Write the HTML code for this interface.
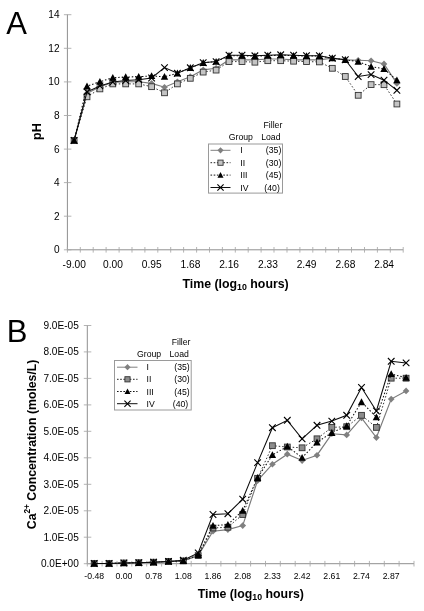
<!DOCTYPE html>
<html lang="en"><head><meta charset="utf-8"><title>Figure</title>
<style>html,body{margin:0;padding:0;background:#fff}body{width:424px;height:611px;overflow:hidden}svg{display:block;filter:blur(0.4px)}</style>
</head><body>
<svg width="424" height="611" viewBox="0 0 424 611" font-family='"Liberation Sans", sans-serif'>
<rect width="424" height="611" fill="#fff"/>
<text x="6.2" y="34.0" font-size="31.00" text-anchor="start" font-weight="normal" fill="#000" >A</text>
<text x="6.8" y="342.0" font-size="31.00" text-anchor="start" font-weight="normal" fill="#000" >B</text>
<g stroke="#8f8f8f" stroke-width="1" fill="none">
<path d="M67.4 14.5V249.6"/>
<path d="M66.9 249.8H403.2"/>
</g>
<g stroke="#a6a6a6" stroke-width="0.85" fill="none">
<path d="M63.9 249.8H71.4"/>
<path d="M63.9 216.2H71.4"/>
<path d="M63.9 182.6H71.4"/>
<path d="M63.9 149.1H71.4"/>
<path d="M63.9 115.5H71.4"/>
<path d="M63.9 81.9H71.4"/>
<path d="M63.9 48.3H71.4"/>
<path d="M63.9 14.7H71.4"/>
<path d="M67.4 247.0V252.6"/>
<path d="M80.3 247.0V252.6"/>
<path d="M93.2 247.0V252.6"/>
<path d="M106.1 247.0V252.6"/>
<path d="M119.1 247.0V252.6"/>
<path d="M132.0 247.0V252.6"/>
<path d="M144.9 247.0V252.6"/>
<path d="M157.8 247.0V252.6"/>
<path d="M170.7 247.0V252.6"/>
<path d="M183.6 247.0V252.6"/>
<path d="M196.6 247.0V252.6"/>
<path d="M209.5 247.0V252.6"/>
<path d="M222.4 247.0V252.6"/>
<path d="M235.3 247.0V252.6"/>
<path d="M248.2 247.0V252.6"/>
<path d="M261.1 247.0V252.6"/>
<path d="M274.0 247.0V252.6"/>
<path d="M287.0 247.0V252.6"/>
<path d="M299.9 247.0V252.6"/>
<path d="M312.8 247.0V252.6"/>
<path d="M325.7 247.0V252.6"/>
<path d="M338.6 247.0V252.6"/>
<path d="M351.5 247.0V252.6"/>
<path d="M364.5 247.0V252.6"/>
<path d="M377.4 247.0V252.6"/>
<path d="M390.3 247.0V252.6"/>
<path d="M403.2 247.0V252.6"/>
</g>
<text x="59.6" y="253.2" font-size="10.10" text-anchor="end" font-weight="normal" fill="#000" >0</text>
<text x="59.6" y="219.6" font-size="10.10" text-anchor="end" font-weight="normal" fill="#000" >2</text>
<text x="59.6" y="186.0" font-size="10.10" text-anchor="end" font-weight="normal" fill="#000" >4</text>
<text x="59.6" y="152.5" font-size="10.10" text-anchor="end" font-weight="normal" fill="#000" >6</text>
<text x="59.6" y="118.9" font-size="10.10" text-anchor="end" font-weight="normal" fill="#000" >8</text>
<text x="59.6" y="85.3" font-size="10.10" text-anchor="end" font-weight="normal" fill="#000" >10</text>
<text x="59.6" y="51.7" font-size="10.10" text-anchor="end" font-weight="normal" fill="#000" >12</text>
<text x="59.6" y="18.1" font-size="10.10" text-anchor="end" font-weight="normal" fill="#000" >14</text>
<text x="74.2" y="268.3" font-size="10.20" text-anchor="middle" font-weight="normal" fill="#000" >-9.00</text>
<text x="112.9" y="268.3" font-size="10.20" text-anchor="middle" font-weight="normal" fill="#000" >0.00</text>
<text x="151.7" y="268.3" font-size="10.20" text-anchor="middle" font-weight="normal" fill="#000" >0.95</text>
<text x="190.4" y="268.3" font-size="10.20" text-anchor="middle" font-weight="normal" fill="#000" >1.68</text>
<text x="229.1" y="268.3" font-size="10.20" text-anchor="middle" font-weight="normal" fill="#000" >2.16</text>
<text x="267.9" y="268.3" font-size="10.20" text-anchor="middle" font-weight="normal" fill="#000" >2.33</text>
<text x="306.6" y="268.3" font-size="10.20" text-anchor="middle" font-weight="normal" fill="#000" >2.49</text>
<text x="345.4" y="268.3" font-size="10.20" text-anchor="middle" font-weight="normal" fill="#000" >2.68</text>
<text x="384.1" y="268.3" font-size="10.20" text-anchor="middle" font-weight="normal" fill="#000" >2.84</text>
<text x="235.6" y="287.6" font-size="12.35" text-anchor="middle" font-weight="bold" fill="#000" >Time (log<tspan font-size="8.8" dy="2.4">10</tspan><tspan dy="-2.4"> hours)</tspan></text>
<text transform="translate(40.8,131.6) rotate(-90)" font-size="12.5" text-anchor="middle" font-weight="bold" fill="#000">pH</text>
<polyline points="74.1,140.5 87.0,93.5 99.9,86.7 112.8,82.5 125.7,81.7 138.7,81.7 151.6,83.4 164.5,87.2 177.4,81.7 190.3,76.7 203.2,69.9 216.1,68.3 229.0,59.9 242.0,59.9 254.9,59.9 267.8,59.0 280.7,59.0 293.6,59.9 306.5,59.9 319.4,59.9 332.3,58.2 345.3,59.9 358.2,60.2 371.1,60.7 384.0,63.9 396.9,83.4" fill="none" stroke="#7a7a7a" stroke-width="1.15"/>
<path d="M74.1 137.1L77.4 140.5L74.1 143.8L70.8 140.5Z" fill="#808080"/>
<path d="M87.0 90.1L90.4 93.5L87.0 96.8L83.7 93.5Z" fill="#808080"/>
<path d="M99.9 83.4L103.3 86.7L99.9 90.1L96.6 86.7Z" fill="#808080"/>
<path d="M112.8 79.2L116.2 82.5L112.8 85.9L109.5 82.5Z" fill="#808080"/>
<path d="M125.7 78.4L129.1 81.7L125.7 85.1L122.4 81.7Z" fill="#808080"/>
<path d="M138.7 78.4L142.0 81.7L138.7 85.1L135.3 81.7Z" fill="#808080"/>
<path d="M151.6 80.0L154.9 83.4L151.6 86.7L148.2 83.4Z" fill="#808080"/>
<path d="M164.5 83.9L167.8 87.2L164.5 90.6L161.1 87.2Z" fill="#808080"/>
<path d="M177.4 78.4L180.7 81.7L177.4 85.1L174.0 81.7Z" fill="#808080"/>
<path d="M190.3 73.3L193.7 76.7L190.3 80.0L187.0 76.7Z" fill="#808080"/>
<path d="M203.2 66.6L206.6 69.9L203.2 73.3L199.9 69.9Z" fill="#808080"/>
<path d="M216.1 64.9L219.5 68.3L216.1 71.6L212.8 68.3Z" fill="#808080"/>
<path d="M229.0 56.5L232.4 59.9L229.0 63.2L225.7 59.9Z" fill="#808080"/>
<path d="M242.0 56.5L245.3 59.9L242.0 63.2L238.6 59.9Z" fill="#808080"/>
<path d="M254.9 56.5L258.2 59.9L254.9 63.2L251.5 59.9Z" fill="#808080"/>
<path d="M267.8 55.7L271.1 59.0L267.8 62.4L264.4 59.0Z" fill="#808080"/>
<path d="M280.7 55.7L284.0 59.0L280.7 62.4L277.3 59.0Z" fill="#808080"/>
<path d="M293.6 56.5L297.0 59.9L293.6 63.2L290.3 59.9Z" fill="#808080"/>
<path d="M306.5 56.5L309.9 59.9L306.5 63.2L303.2 59.9Z" fill="#808080"/>
<path d="M319.4 56.5L322.8 59.9L319.4 63.2L316.1 59.9Z" fill="#808080"/>
<path d="M332.3 54.8L335.7 58.2L332.3 61.5L329.0 58.2Z" fill="#808080"/>
<path d="M345.3 56.5L348.6 59.9L345.3 63.2L341.9 59.9Z" fill="#808080"/>
<path d="M358.2 56.9L361.5 60.2L358.2 63.6L354.8 60.2Z" fill="#808080"/>
<path d="M371.1 57.4L374.4 60.7L371.1 64.1L367.7 60.7Z" fill="#808080"/>
<path d="M384.0 60.6L387.3 63.9L384.0 67.3L380.6 63.9Z" fill="#808080"/>
<path d="M396.9 80.0L400.2 83.4L396.9 86.7L393.5 83.4Z" fill="#808080"/>
<polyline points="74.1,140.5 87.0,96.8 99.9,88.9 112.8,83.9 125.7,83.9 138.7,83.9 151.6,86.7 164.5,92.8 177.4,83.9 190.3,78.3 203.2,72.1 216.1,70.1 229.0,61.6 242.0,61.6 254.9,62.2 267.8,60.7 280.7,60.7 293.6,61.2 306.5,61.6 319.4,61.9 332.3,68.3 345.3,76.5 358.2,95.3 371.1,84.6 384.0,84.7 396.9,104.0" fill="none" stroke="#333" stroke-width="1.00" stroke-dasharray="1.5 2.0"/>
<rect x="71.2" y="137.6" width="5.8" height="5.8" fill="#c4c4c4" stroke="#333" stroke-width="0.9"/>
<rect x="84.1" y="93.9" width="5.8" height="5.8" fill="#c4c4c4" stroke="#333" stroke-width="0.9"/>
<rect x="97.0" y="86.0" width="5.8" height="5.8" fill="#c4c4c4" stroke="#333" stroke-width="0.9"/>
<rect x="109.9" y="81.0" width="5.8" height="5.8" fill="#c4c4c4" stroke="#333" stroke-width="0.9"/>
<rect x="122.8" y="81.0" width="5.8" height="5.8" fill="#c4c4c4" stroke="#333" stroke-width="0.9"/>
<rect x="135.8" y="81.0" width="5.8" height="5.8" fill="#c4c4c4" stroke="#333" stroke-width="0.9"/>
<rect x="148.7" y="83.8" width="5.8" height="5.8" fill="#c4c4c4" stroke="#333" stroke-width="0.9"/>
<rect x="161.6" y="89.9" width="5.8" height="5.8" fill="#c4c4c4" stroke="#333" stroke-width="0.9"/>
<rect x="174.5" y="81.0" width="5.8" height="5.8" fill="#c4c4c4" stroke="#333" stroke-width="0.9"/>
<rect x="187.4" y="75.4" width="5.8" height="5.8" fill="#c4c4c4" stroke="#333" stroke-width="0.9"/>
<rect x="200.3" y="69.2" width="5.8" height="5.8" fill="#c4c4c4" stroke="#333" stroke-width="0.9"/>
<rect x="213.2" y="67.2" width="5.8" height="5.8" fill="#c4c4c4" stroke="#333" stroke-width="0.9"/>
<rect x="226.1" y="58.7" width="5.8" height="5.8" fill="#c4c4c4" stroke="#333" stroke-width="0.9"/>
<rect x="239.1" y="58.7" width="5.8" height="5.8" fill="#c4c4c4" stroke="#333" stroke-width="0.9"/>
<rect x="252.0" y="59.3" width="5.8" height="5.8" fill="#c4c4c4" stroke="#333" stroke-width="0.9"/>
<rect x="264.9" y="57.8" width="5.8" height="5.8" fill="#c4c4c4" stroke="#333" stroke-width="0.9"/>
<rect x="277.8" y="57.8" width="5.8" height="5.8" fill="#c4c4c4" stroke="#333" stroke-width="0.9"/>
<rect x="290.7" y="58.3" width="5.8" height="5.8" fill="#c4c4c4" stroke="#333" stroke-width="0.9"/>
<rect x="303.6" y="58.7" width="5.8" height="5.8" fill="#c4c4c4" stroke="#333" stroke-width="0.9"/>
<rect x="316.5" y="59.0" width="5.8" height="5.8" fill="#c4c4c4" stroke="#333" stroke-width="0.9"/>
<rect x="329.4" y="65.4" width="5.8" height="5.8" fill="#c4c4c4" stroke="#333" stroke-width="0.9"/>
<rect x="342.4" y="73.6" width="5.8" height="5.8" fill="#c4c4c4" stroke="#333" stroke-width="0.9"/>
<rect x="355.3" y="92.4" width="5.8" height="5.8" fill="#c4c4c4" stroke="#333" stroke-width="0.9"/>
<rect x="368.2" y="81.7" width="5.8" height="5.8" fill="#c4c4c4" stroke="#333" stroke-width="0.9"/>
<rect x="381.1" y="81.8" width="5.8" height="5.8" fill="#c4c4c4" stroke="#333" stroke-width="0.9"/>
<rect x="394.0" y="101.1" width="5.8" height="5.8" fill="#c4c4c4" stroke="#333" stroke-width="0.9"/>
<polyline points="74.1,140.5 87.0,86.2 99.9,81.7 112.8,77.7 125.7,77.0 138.7,76.7 151.6,76.0 164.5,76.7 177.4,73.3 190.3,67.8 203.2,62.7 216.1,61.6 229.0,55.7 242.0,55.7 254.9,56.2 267.8,55.7 280.7,55.2 293.6,55.7 306.5,56.0 319.4,56.0 332.3,58.2 345.3,59.7 358.2,61.6 371.1,66.6 384.0,68.9 396.9,80.2" fill="none" stroke="#111" stroke-width="1.05" stroke-dasharray="1.5 1.9"/>
<path d="M74.1 136.8L77.8 143.6L70.4 143.6Z" fill="#000"/>
<path d="M87.0 82.5L90.7 89.4L83.3 89.4Z" fill="#000"/>
<path d="M99.9 78.0L103.6 84.8L96.2 84.8Z" fill="#000"/>
<path d="M112.8 74.0L116.5 80.8L109.1 80.8Z" fill="#000"/>
<path d="M125.7 73.3L129.4 80.1L122.0 80.1Z" fill="#000"/>
<path d="M138.7 73.0L142.4 79.8L135.0 79.8Z" fill="#000"/>
<path d="M151.6 72.3L155.3 79.1L147.9 79.1Z" fill="#000"/>
<path d="M164.5 73.0L168.2 79.8L160.8 79.8Z" fill="#000"/>
<path d="M177.4 69.6L181.1 76.5L173.7 76.5Z" fill="#000"/>
<path d="M190.3 64.1L194.0 70.9L186.6 70.9Z" fill="#000"/>
<path d="M203.2 59.0L206.9 65.9L199.5 65.9Z" fill="#000"/>
<path d="M216.1 57.9L219.8 64.7L212.4 64.7Z" fill="#000"/>
<path d="M229.0 52.0L232.7 58.8L225.3 58.8Z" fill="#000"/>
<path d="M242.0 52.0L245.7 58.8L238.3 58.8Z" fill="#000"/>
<path d="M254.9 52.5L258.6 59.3L251.2 59.3Z" fill="#000"/>
<path d="M267.8 52.0L271.5 58.8L264.1 58.8Z" fill="#000"/>
<path d="M280.7 51.5L284.4 58.3L277.0 58.3Z" fill="#000"/>
<path d="M293.6 52.0L297.3 58.8L289.9 58.8Z" fill="#000"/>
<path d="M306.5 52.3L310.2 59.2L302.8 59.2Z" fill="#000"/>
<path d="M319.4 52.3L323.1 59.2L315.7 59.2Z" fill="#000"/>
<path d="M332.3 54.5L336.0 61.3L328.6 61.3Z" fill="#000"/>
<path d="M345.3 56.0L349.0 62.9L341.6 62.9Z" fill="#000"/>
<path d="M358.2 57.9L361.9 64.7L354.5 64.7Z" fill="#000"/>
<path d="M371.1 62.9L374.8 69.7L367.4 69.7Z" fill="#000"/>
<path d="M384.0 65.2L387.7 72.1L380.3 72.1Z" fill="#000"/>
<path d="M396.9 76.5L400.6 83.3L393.2 83.3Z" fill="#000"/>
<polyline points="74.1,140.5 87.0,91.8 99.9,85.9 112.8,82.0 125.7,80.5 138.7,79.7 151.6,78.0 164.5,67.6 177.4,73.3 190.3,67.8 203.2,62.7 216.1,61.6 229.0,55.2 242.0,55.2 254.9,55.8 267.8,55.2 280.7,54.8 293.6,55.2 306.5,55.7 319.4,55.7 332.3,58.2 345.3,59.7 358.2,76.5 371.1,74.6 384.0,80.2 396.9,90.3" fill="none" stroke="#0a0a0a" stroke-width="1.05"/>
<path d="M70.8 137.2L77.4 143.8M70.8 143.8L77.4 137.2" stroke="#000" stroke-width="1.1" fill="none"/>
<path d="M83.7 88.5L90.3 95.1M83.7 95.1L90.3 88.5" stroke="#000" stroke-width="1.1" fill="none"/>
<path d="M96.6 82.6L103.2 89.2M96.6 89.2L103.2 82.6" stroke="#000" stroke-width="1.1" fill="none"/>
<path d="M109.5 78.7L116.1 85.3M109.5 85.3L116.1 78.7" stroke="#000" stroke-width="1.1" fill="none"/>
<path d="M122.4 77.2L129.0 83.8M122.4 83.8L129.0 77.2" stroke="#000" stroke-width="1.1" fill="none"/>
<path d="M135.4 76.4L142.0 83.0M135.4 83.0L142.0 76.4" stroke="#000" stroke-width="1.1" fill="none"/>
<path d="M148.3 74.7L154.9 81.3M148.3 81.3L154.9 74.7" stroke="#000" stroke-width="1.1" fill="none"/>
<path d="M161.2 64.3L167.8 70.9M161.2 70.9L167.8 64.3" stroke="#000" stroke-width="1.1" fill="none"/>
<path d="M174.1 70.0L180.7 76.6M174.1 76.6L180.7 70.0" stroke="#000" stroke-width="1.1" fill="none"/>
<path d="M187.0 64.5L193.6 71.1M187.0 71.1L193.6 64.5" stroke="#000" stroke-width="1.1" fill="none"/>
<path d="M199.9 59.4L206.5 66.0M199.9 66.0L206.5 59.4" stroke="#000" stroke-width="1.1" fill="none"/>
<path d="M212.8 58.3L219.4 64.9M212.8 64.9L219.4 58.3" stroke="#000" stroke-width="1.1" fill="none"/>
<path d="M225.7 51.9L232.3 58.5M225.7 58.5L232.3 51.9" stroke="#000" stroke-width="1.1" fill="none"/>
<path d="M238.7 51.9L245.3 58.5M238.7 58.5L245.3 51.9" stroke="#000" stroke-width="1.1" fill="none"/>
<path d="M251.6 52.5L258.2 59.1M251.6 59.1L258.2 52.5" stroke="#000" stroke-width="1.1" fill="none"/>
<path d="M264.5 51.9L271.1 58.5M264.5 58.5L271.1 51.9" stroke="#000" stroke-width="1.1" fill="none"/>
<path d="M277.4 51.5L284.0 58.1M277.4 58.1L284.0 51.5" stroke="#000" stroke-width="1.1" fill="none"/>
<path d="M290.3 51.9L296.9 58.5M290.3 58.5L296.9 51.9" stroke="#000" stroke-width="1.1" fill="none"/>
<path d="M303.2 52.4L309.8 59.0M303.2 59.0L309.8 52.4" stroke="#000" stroke-width="1.1" fill="none"/>
<path d="M316.1 52.4L322.7 59.0M316.1 59.0L322.7 52.4" stroke="#000" stroke-width="1.1" fill="none"/>
<path d="M329.0 54.9L335.6 61.5M329.0 61.5L335.6 54.9" stroke="#000" stroke-width="1.1" fill="none"/>
<path d="M342.0 56.4L348.6 63.0M342.0 63.0L348.6 56.4" stroke="#000" stroke-width="1.1" fill="none"/>
<path d="M354.9 73.2L361.5 79.8M354.9 79.8L361.5 73.2" stroke="#000" stroke-width="1.1" fill="none"/>
<path d="M367.8 71.3L374.4 77.9M367.8 77.9L374.4 71.3" stroke="#000" stroke-width="1.1" fill="none"/>
<path d="M380.7 76.9L387.3 83.5M380.7 83.5L387.3 76.9" stroke="#000" stroke-width="1.1" fill="none"/>
<path d="M393.6 87.0L400.2 93.6M393.6 93.6L400.2 87.0" stroke="#000" stroke-width="1.1" fill="none"/>
<text x="282.3" y="128.2" font-size="8.70" text-anchor="end" font-weight="normal" fill="#000" >Filler</text>
<text x="280.5" y="139.9" font-size="8.70" text-anchor="end" font-weight="normal" fill="#000" >Load</text>
<text x="228.8" y="139.9" font-size="8.70" text-anchor="start" font-weight="normal" fill="#000" >Group</text>
<rect x="208.5" y="144.0" width="74.0" height="49.1" fill="#fff" stroke="#9a9a9a" stroke-width="1"/>
<polyline points="210.5,150.3 230.5,150.3" fill="none" stroke="#808080" stroke-width="1.00"/>
<path d="M220.5 147.2L223.6 150.3L220.5 153.4L217.4 150.3Z" fill="#808080"/>
<text x="240.3" y="153.4" font-size="8.70" text-anchor="start" font-weight="normal" fill="#000" >I</text>
<text x="281.3" y="153.4" font-size="8.70" text-anchor="end" font-weight="normal" fill="#000" >(35)</text>
<polyline points="210.5,162.7 230.5,162.7" fill="none" stroke="#222" stroke-width="1.00" stroke-dasharray="1.6 1.6"/>
<rect x="217.9" y="160.1" width="5.2" height="5.2" fill="#c4c4c4" stroke="#333" stroke-width="0.9"/>
<text x="240.3" y="165.8" font-size="8.70" text-anchor="start" font-weight="normal" fill="#000" >II</text>
<text x="281.3" y="165.8" font-size="8.70" text-anchor="end" font-weight="normal" fill="#000" >(30)</text>
<polyline points="210.5,175.1 230.5,175.1" fill="none" stroke="#111" stroke-width="1.00" stroke-dasharray="1.6 1.6"/>
<path d="M220.5 172.1L223.5 177.7L217.5 177.7Z" fill="#000"/>
<text x="240.3" y="178.2" font-size="8.70" text-anchor="start" font-weight="normal" fill="#000" >III</text>
<text x="281.3" y="178.2" font-size="8.70" text-anchor="end" font-weight="normal" fill="#000" >(45)</text>
<polyline points="210.5,187.5 230.5,187.5" fill="none" stroke="#111" stroke-width="1.00"/>
<path d="M217.4 184.4L223.6 190.6M217.4 190.6L223.6 184.4" stroke="#000" stroke-width="1.1" fill="none"/>
<text x="240.3" y="190.6" font-size="8.70" text-anchor="start" font-weight="normal" fill="#000" >IV</text>
<text x="279.8" y="190.6" font-size="8.70" text-anchor="end" font-weight="normal" fill="#000" >(40)</text>
<g stroke="#8f8f8f" stroke-width="1" fill="none">
<path d="M87.3 325.3V563.5"/>
<path d="M86.8 563.7H414.0"/>
</g>
<g stroke="#a6a6a6" stroke-width="0.85" fill="none">
<path d="M83.8 563.7H91.3"/>
<path d="M83.8 537.2H91.3"/>
<path d="M83.8 510.8H91.3"/>
<path d="M83.8 484.3H91.3"/>
<path d="M83.8 457.8H91.3"/>
<path d="M83.8 431.3H91.3"/>
<path d="M83.8 404.9H91.3"/>
<path d="M83.8 378.4H91.3"/>
<path d="M83.8 351.9H91.3"/>
<path d="M83.8 325.5H91.3"/>
<path d="M87.3 560.9V566.5"/>
<path d="M102.1 560.9V566.5"/>
<path d="M117.0 560.9V566.5"/>
<path d="M131.8 560.9V566.5"/>
<path d="M146.7 560.9V566.5"/>
<path d="M161.6 560.9V566.5"/>
<path d="M176.4 560.9V566.5"/>
<path d="M191.2 560.9V566.5"/>
<path d="M206.1 560.9V566.5"/>
<path d="M220.9 560.9V566.5"/>
<path d="M235.8 560.9V566.5"/>
<path d="M250.6 560.9V566.5"/>
<path d="M265.5 560.9V566.5"/>
<path d="M280.3 560.9V566.5"/>
<path d="M295.2 560.9V566.5"/>
<path d="M310.1 560.9V566.5"/>
<path d="M324.9 560.9V566.5"/>
<path d="M339.8 560.9V566.5"/>
<path d="M354.6 560.9V566.5"/>
<path d="M369.4 560.9V566.5"/>
<path d="M384.3 560.9V566.5"/>
<path d="M399.1 560.9V566.5"/>
<path d="M414.0 560.9V566.5"/>
</g>
<text x="78.8" y="567.2" font-size="10.10" text-anchor="end" font-weight="normal" fill="#000" >0.0E+00</text>
<text x="78.8" y="540.7" font-size="10.10" text-anchor="end" font-weight="normal" fill="#000" >1.0E-05</text>
<text x="78.8" y="514.3" font-size="10.10" text-anchor="end" font-weight="normal" fill="#000" >2.0E-05</text>
<text x="78.8" y="487.8" font-size="10.10" text-anchor="end" font-weight="normal" fill="#000" >3.0E-05</text>
<text x="78.8" y="461.3" font-size="10.10" text-anchor="end" font-weight="normal" fill="#000" >4.0E-05</text>
<text x="78.8" y="434.8" font-size="10.10" text-anchor="end" font-weight="normal" fill="#000" >5.0E-05</text>
<text x="78.8" y="408.4" font-size="10.10" text-anchor="end" font-weight="normal" fill="#000" >6.0E-05</text>
<text x="78.8" y="381.9" font-size="10.10" text-anchor="end" font-weight="normal" fill="#000" >7.0E-05</text>
<text x="78.8" y="355.4" font-size="10.10" text-anchor="end" font-weight="normal" fill="#000" >8.0E-05</text>
<text x="78.8" y="329.0" font-size="10.10" text-anchor="end" font-weight="normal" fill="#000" >9.0E-05</text>
<text x="94.2" y="579.3" font-size="8.70" text-anchor="middle" font-weight="normal" fill="#000" >-0.48</text>
<text x="123.9" y="579.3" font-size="8.70" text-anchor="middle" font-weight="normal" fill="#000" >0.00</text>
<text x="153.6" y="579.3" font-size="8.70" text-anchor="middle" font-weight="normal" fill="#000" >0.78</text>
<text x="183.3" y="579.3" font-size="8.70" text-anchor="middle" font-weight="normal" fill="#000" >1.08</text>
<text x="213.0" y="579.3" font-size="8.70" text-anchor="middle" font-weight="normal" fill="#000" >1.86</text>
<text x="242.7" y="579.3" font-size="8.70" text-anchor="middle" font-weight="normal" fill="#000" >2.08</text>
<text x="272.4" y="579.3" font-size="8.70" text-anchor="middle" font-weight="normal" fill="#000" >2.33</text>
<text x="302.1" y="579.3" font-size="8.70" text-anchor="middle" font-weight="normal" fill="#000" >2.42</text>
<text x="331.8" y="579.3" font-size="8.70" text-anchor="middle" font-weight="normal" fill="#000" >2.61</text>
<text x="361.5" y="579.3" font-size="8.70" text-anchor="middle" font-weight="normal" fill="#000" >2.74</text>
<text x="391.2" y="579.3" font-size="8.70" text-anchor="middle" font-weight="normal" fill="#000" >2.87</text>
<text x="250.8" y="598.0" font-size="12.35" text-anchor="middle" font-weight="bold" fill="#000" >Time (log<tspan font-size="8.8" dy="2.4">10</tspan><tspan dy="-2.4"> hours)</tspan></text>
<text transform="translate(35.7,444.4) rotate(-90)" font-size="12.27" text-anchor="middle" font-weight="bold" fill="#000">Ca<tspan font-size="8.3" dy="-5.6">2+</tspan><tspan dy="5.6"> Concentration (moles/L)</tspan></text>
<polyline points="94.2,563.5 109.1,563.5 123.9,563.0 138.8,562.7 153.6,562.2 168.5,561.6 183.3,560.9 198.2,555.6 213.0,531.2 227.9,529.6 242.7,525.6 257.6,480.6 272.4,464.2 287.3,454.2 302.1,460.5 317.0,455.2 331.8,433.8 346.7,434.9 361.5,417.9 376.4,437.5 391.2,399.1 406.1,390.9" fill="none" stroke="#7a7a7a" stroke-width="1.15"/>
<path d="M94.2 560.1L97.6 563.5L94.2 566.9L90.9 563.5Z" fill="#808080"/>
<path d="M109.1 560.1L112.4 563.5L109.1 566.9L105.7 563.5Z" fill="#808080"/>
<path d="M123.9 559.6L127.3 563.0L123.9 566.3L120.6 563.0Z" fill="#808080"/>
<path d="M138.8 559.4L142.1 562.7L138.8 566.1L135.4 562.7Z" fill="#808080"/>
<path d="M153.6 558.8L157.0 562.2L153.6 565.5L150.3 562.2Z" fill="#808080"/>
<path d="M168.5 558.3L171.8 561.6L168.5 565.0L165.1 561.6Z" fill="#808080"/>
<path d="M183.3 557.5L186.7 560.9L183.3 564.2L180.0 560.9Z" fill="#808080"/>
<path d="M198.2 552.2L201.5 555.6L198.2 558.9L194.8 555.6Z" fill="#808080"/>
<path d="M213.0 527.9L216.4 531.2L213.0 534.6L209.7 531.2Z" fill="#808080"/>
<path d="M227.9 526.3L231.2 529.6L227.9 533.0L224.5 529.6Z" fill="#808080"/>
<path d="M242.7 522.3L246.1 525.6L242.7 529.0L239.4 525.6Z" fill="#808080"/>
<path d="M257.6 477.3L260.9 480.6L257.6 484.0L254.2 480.6Z" fill="#808080"/>
<path d="M272.4 460.9L275.8 464.2L272.4 467.6L269.1 464.2Z" fill="#808080"/>
<path d="M287.3 450.8L290.6 454.2L287.3 457.5L283.9 454.2Z" fill="#808080"/>
<path d="M302.1 457.2L305.5 460.5L302.1 463.9L298.8 460.5Z" fill="#808080"/>
<path d="M317.0 451.9L320.3 455.2L317.0 458.6L313.6 455.2Z" fill="#808080"/>
<path d="M331.8 430.4L335.2 433.8L331.8 437.1L328.5 433.8Z" fill="#808080"/>
<path d="M346.7 431.5L350.0 434.9L346.7 438.2L343.3 434.9Z" fill="#808080"/>
<path d="M361.5 414.6L364.9 417.9L361.5 421.3L358.2 417.9Z" fill="#808080"/>
<path d="M376.4 434.2L379.7 437.5L376.4 440.9L373.0 437.5Z" fill="#808080"/>
<path d="M391.2 395.8L394.6 399.1L391.2 402.5L387.9 399.1Z" fill="#808080"/>
<path d="M406.1 387.6L409.4 390.9L406.1 394.3L402.7 390.9Z" fill="#808080"/>
<polyline points="94.2,563.5 109.1,563.5 123.9,563.0 138.8,562.7 153.6,562.2 168.5,561.4 183.3,560.9 198.2,555.6 213.0,528.0 227.9,527.2 242.7,514.5 257.6,478.3 272.4,445.7 287.3,447.0 302.1,447.8 317.0,438.8 331.8,427.4 346.7,426.7 361.5,415.3 376.4,427.4 391.2,378.2 406.1,378.2" fill="none" stroke="#333" stroke-width="1.00" stroke-dasharray="1.5 2.0"/>
<rect x="91.3" y="560.6" width="5.8" height="5.8" fill="#8c8c8c" stroke="#333" stroke-width="0.9"/>
<rect x="106.2" y="560.6" width="5.8" height="5.8" fill="#8c8c8c" stroke="#333" stroke-width="0.9"/>
<rect x="121.0" y="560.1" width="5.8" height="5.8" fill="#8c8c8c" stroke="#333" stroke-width="0.9"/>
<rect x="135.9" y="559.8" width="5.8" height="5.8" fill="#8c8c8c" stroke="#333" stroke-width="0.9"/>
<rect x="150.7" y="559.3" width="5.8" height="5.8" fill="#8c8c8c" stroke="#333" stroke-width="0.9"/>
<rect x="165.6" y="558.5" width="5.8" height="5.8" fill="#8c8c8c" stroke="#333" stroke-width="0.9"/>
<rect x="180.4" y="558.0" width="5.8" height="5.8" fill="#8c8c8c" stroke="#333" stroke-width="0.9"/>
<rect x="195.3" y="552.7" width="5.8" height="5.8" fill="#8c8c8c" stroke="#333" stroke-width="0.9"/>
<rect x="210.1" y="525.1" width="5.8" height="5.8" fill="#8c8c8c" stroke="#333" stroke-width="0.9"/>
<rect x="225.0" y="524.3" width="5.8" height="5.8" fill="#8c8c8c" stroke="#333" stroke-width="0.9"/>
<rect x="239.8" y="511.6" width="5.8" height="5.8" fill="#8c8c8c" stroke="#333" stroke-width="0.9"/>
<rect x="254.7" y="475.4" width="5.8" height="5.8" fill="#8c8c8c" stroke="#333" stroke-width="0.9"/>
<rect x="269.5" y="442.8" width="5.8" height="5.8" fill="#8c8c8c" stroke="#333" stroke-width="0.9"/>
<rect x="284.4" y="444.1" width="5.8" height="5.8" fill="#8c8c8c" stroke="#333" stroke-width="0.9"/>
<rect x="299.2" y="444.9" width="5.8" height="5.8" fill="#8c8c8c" stroke="#333" stroke-width="0.9"/>
<rect x="314.1" y="435.9" width="5.8" height="5.8" fill="#8c8c8c" stroke="#333" stroke-width="0.9"/>
<rect x="328.9" y="424.5" width="5.8" height="5.8" fill="#8c8c8c" stroke="#333" stroke-width="0.9"/>
<rect x="343.8" y="423.8" width="5.8" height="5.8" fill="#8c8c8c" stroke="#333" stroke-width="0.9"/>
<rect x="358.6" y="412.4" width="5.8" height="5.8" fill="#8c8c8c" stroke="#333" stroke-width="0.9"/>
<rect x="373.5" y="424.5" width="5.8" height="5.8" fill="#8c8c8c" stroke="#333" stroke-width="0.9"/>
<rect x="388.3" y="375.3" width="5.8" height="5.8" fill="#8c8c8c" stroke="#333" stroke-width="0.9"/>
<rect x="403.2" y="375.3" width="5.8" height="5.8" fill="#8c8c8c" stroke="#333" stroke-width="0.9"/>
<polyline points="94.2,563.5 109.1,563.5 123.9,563.0 138.8,562.7 153.6,562.2 168.5,561.4 183.3,560.9 198.2,554.8 213.0,525.6 227.9,524.6 242.7,510.6 257.6,477.7 272.4,455.0 287.3,446.5 302.1,457.6 317.0,442.3 331.8,432.7 346.7,425.9 361.5,402.0 376.4,417.1 391.2,374.0 406.1,377.7" fill="none" stroke="#111" stroke-width="1.05" stroke-dasharray="1.5 1.9"/>
<path d="M94.2 559.8L97.9 566.6L90.5 566.6Z" fill="#000"/>
<path d="M109.1 559.8L112.8 566.6L105.4 566.6Z" fill="#000"/>
<path d="M123.9 559.3L127.6 566.1L120.2 566.1Z" fill="#000"/>
<path d="M138.8 559.0L142.5 565.9L135.1 565.9Z" fill="#000"/>
<path d="M153.6 558.5L157.3 565.3L149.9 565.3Z" fill="#000"/>
<path d="M168.5 557.7L172.2 564.5L164.8 564.5Z" fill="#000"/>
<path d="M183.3 557.2L187.0 564.0L179.6 564.0Z" fill="#000"/>
<path d="M198.2 551.1L201.9 557.9L194.5 557.9Z" fill="#000"/>
<path d="M213.0 521.9L216.7 528.8L209.3 528.8Z" fill="#000"/>
<path d="M227.9 520.9L231.6 527.7L224.2 527.7Z" fill="#000"/>
<path d="M242.7 506.9L246.4 513.7L239.0 513.7Z" fill="#000"/>
<path d="M257.6 474.0L261.3 480.9L253.9 480.9Z" fill="#000"/>
<path d="M272.4 451.3L276.1 458.1L268.7 458.1Z" fill="#000"/>
<path d="M287.3 442.8L291.0 449.6L283.6 449.6Z" fill="#000"/>
<path d="M302.1 453.9L305.8 460.8L298.4 460.8Z" fill="#000"/>
<path d="M317.0 438.6L320.7 445.4L313.3 445.4Z" fill="#000"/>
<path d="M331.8 429.0L335.5 435.9L328.1 435.9Z" fill="#000"/>
<path d="M346.7 422.2L350.4 429.0L343.0 429.0Z" fill="#000"/>
<path d="M361.5 398.3L365.2 405.2L357.8 405.2Z" fill="#000"/>
<path d="M376.4 413.4L380.1 420.3L372.7 420.3Z" fill="#000"/>
<path d="M391.2 370.3L394.9 377.1L387.5 377.1Z" fill="#000"/>
<path d="M406.1 374.0L409.8 380.8L402.4 380.8Z" fill="#000"/>
<polyline points="94.2,563.5 109.1,563.5 123.9,563.0 138.8,562.7 153.6,562.2 168.5,561.4 183.3,560.3 198.2,552.9 213.0,514.5 227.9,513.7 242.7,499.2 257.6,462.6 272.4,427.7 287.3,420.3 302.1,438.8 317.0,425.3 331.8,421.1 346.7,415.3 361.5,387.5 376.4,411.0 391.2,361.3 406.1,362.9" fill="none" stroke="#0a0a0a" stroke-width="1.05"/>
<path d="M90.9 560.2L97.5 566.8M90.9 566.8L97.5 560.2" stroke="#000" stroke-width="1.1" fill="none"/>
<path d="M105.8 560.2L112.4 566.8M105.8 566.8L112.4 560.2" stroke="#000" stroke-width="1.1" fill="none"/>
<path d="M120.6 559.7L127.2 566.3M120.6 566.3L127.2 559.7" stroke="#000" stroke-width="1.1" fill="none"/>
<path d="M135.5 559.4L142.1 566.0M135.5 566.0L142.1 559.4" stroke="#000" stroke-width="1.1" fill="none"/>
<path d="M150.3 558.9L156.9 565.5M150.3 565.5L156.9 558.9" stroke="#000" stroke-width="1.1" fill="none"/>
<path d="M165.2 558.1L171.8 564.7M165.2 564.7L171.8 558.1" stroke="#000" stroke-width="1.1" fill="none"/>
<path d="M180.0 557.0L186.6 563.6M180.0 563.6L186.6 557.0" stroke="#000" stroke-width="1.1" fill="none"/>
<path d="M194.9 549.6L201.5 556.2M194.9 556.2L201.5 549.6" stroke="#000" stroke-width="1.1" fill="none"/>
<path d="M209.7 511.2L216.3 517.8M209.7 517.8L216.3 511.2" stroke="#000" stroke-width="1.1" fill="none"/>
<path d="M224.6 510.4L231.2 517.0M224.6 517.0L231.2 510.4" stroke="#000" stroke-width="1.1" fill="none"/>
<path d="M239.4 495.9L246.0 502.5M239.4 502.5L246.0 495.9" stroke="#000" stroke-width="1.1" fill="none"/>
<path d="M254.3 459.3L260.9 465.9M254.3 465.9L260.9 459.3" stroke="#000" stroke-width="1.1" fill="none"/>
<path d="M269.1 424.4L275.7 431.0M269.1 431.0L275.7 424.4" stroke="#000" stroke-width="1.1" fill="none"/>
<path d="M284.0 417.0L290.6 423.6M284.0 423.6L290.6 417.0" stroke="#000" stroke-width="1.1" fill="none"/>
<path d="M298.8 435.5L305.4 442.1M298.8 442.1L305.4 435.5" stroke="#000" stroke-width="1.1" fill="none"/>
<path d="M313.7 422.0L320.3 428.6M313.7 428.6L320.3 422.0" stroke="#000" stroke-width="1.1" fill="none"/>
<path d="M328.5 417.8L335.1 424.4M328.5 424.4L335.1 417.8" stroke="#000" stroke-width="1.1" fill="none"/>
<path d="M343.4 412.0L350.0 418.6M343.4 418.6L350.0 412.0" stroke="#000" stroke-width="1.1" fill="none"/>
<path d="M358.2 384.2L364.8 390.8M358.2 390.8L364.8 384.2" stroke="#000" stroke-width="1.1" fill="none"/>
<path d="M373.1 407.7L379.7 414.3M373.1 414.3L379.7 407.7" stroke="#000" stroke-width="1.1" fill="none"/>
<path d="M387.9 358.0L394.5 364.6M387.9 364.6L394.5 358.0" stroke="#000" stroke-width="1.1" fill="none"/>
<path d="M402.8 359.6L409.4 366.2M402.8 366.2L409.4 359.6" stroke="#000" stroke-width="1.1" fill="none"/>
<text x="190.5" y="345.2" font-size="8.70" text-anchor="end" font-weight="normal" fill="#000" >Filler</text>
<text x="188.8" y="356.8" font-size="8.70" text-anchor="end" font-weight="normal" fill="#000" >Load</text>
<text x="137.0" y="356.8" font-size="8.70" text-anchor="start" font-weight="normal" fill="#000" >Group</text>
<rect x="114.5" y="360.5" width="76.7" height="49.5" fill="#fff" stroke="#9a9a9a" stroke-width="1"/>
<polyline points="117.0,367.2 137.5,367.2" fill="none" stroke="#808080" stroke-width="1.00"/>
<path d="M127.5 364.1L130.6 367.2L127.5 370.3L124.4 367.2Z" fill="#808080"/>
<text x="146.5" y="370.3" font-size="8.70" text-anchor="start" font-weight="normal" fill="#000" >I</text>
<text x="189.7" y="370.3" font-size="8.70" text-anchor="end" font-weight="normal" fill="#000" >(35)</text>
<polyline points="117.0,379.3 137.5,379.3" fill="none" stroke="#222" stroke-width="1.00" stroke-dasharray="1.6 1.6"/>
<rect x="124.9" y="376.7" width="5.2" height="5.2" fill="#8c8c8c" stroke="#333" stroke-width="0.9"/>
<text x="146.5" y="382.4" font-size="8.70" text-anchor="start" font-weight="normal" fill="#000" >II</text>
<text x="189.7" y="382.4" font-size="8.70" text-anchor="end" font-weight="normal" fill="#000" >(30)</text>
<polyline points="117.0,391.5 137.5,391.5" fill="none" stroke="#111" stroke-width="1.00" stroke-dasharray="1.6 1.6"/>
<path d="M127.5 388.5L130.5 394.1L124.5 394.1Z" fill="#000"/>
<text x="146.5" y="394.6" font-size="8.70" text-anchor="start" font-weight="normal" fill="#000" >III</text>
<text x="189.7" y="394.6" font-size="8.70" text-anchor="end" font-weight="normal" fill="#000" >(45)</text>
<polyline points="117.0,403.7 137.5,403.7" fill="none" stroke="#111" stroke-width="1.00"/>
<path d="M124.4 400.6L130.6 406.8M124.4 406.8L130.6 400.6" stroke="#000" stroke-width="1.1" fill="none"/>
<text x="146.5" y="406.8" font-size="8.70" text-anchor="start" font-weight="normal" fill="#000" >IV</text>
<text x="188.2" y="406.8" font-size="8.70" text-anchor="end" font-weight="normal" fill="#000" >(40)</text>
</svg>
</body></html>
